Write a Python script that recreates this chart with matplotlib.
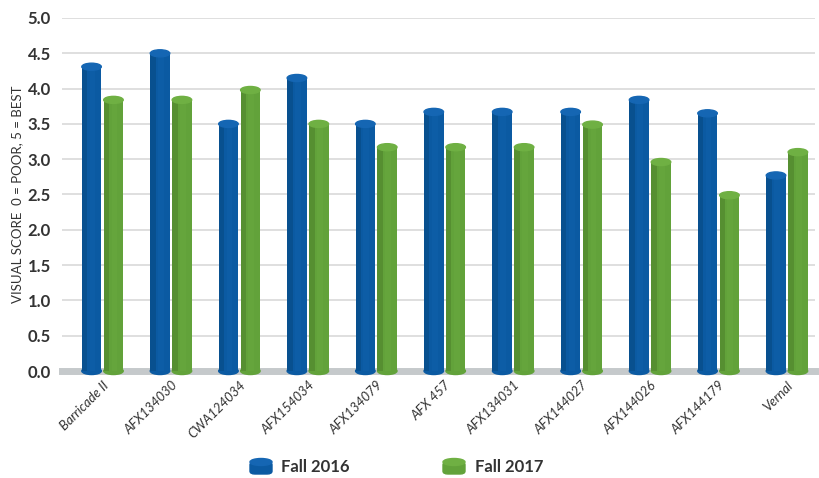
import matplotlib.pyplot as plt
import numpy as np
from matplotlib.patches import Ellipse, FancyBboxPatch

# data
varieties = ["Barricade II", "AFX134030", "CWA124034", "AFX154034", "AFX134079",
             "AFX 457", "AFX134031", "AFX144027", "AFX144026", "AFX144179", "Vernal"]
fall_2016 = [4.31, 4.50, 3.50, 4.15, 3.50, 3.67, 3.67, 3.67, 3.84, 3.65, 2.77]
fall_2017 = [3.84, 3.84, 3.98, 3.50, 3.17, 3.17, 3.17, 3.49, 2.96, 2.49, 3.10]
series_names = ["Fall 2016", "Fall 2017"]
y_ticks = np.arange(0, 5.01, 0.5)

# theme
BLUE = "#0b5aa2"
BLUE_DARK = "#08508f"
BLUE_TOP = "#1566b3"
GREEN = "#62a23a"
GREEN_DARK = "#568f31"
GREEN_TOP = "#6fb043"
TEXT = "#333333"
GRID = "#d9d9d9"
FLOOR = "#c5c9cb"

plt.rcParams['font.family'] = ['Lato', 'DejaVu Sans']

fig = plt.figure(figsize=(8.19, 4.78), dpi=100, facecolor="white")
ax = fig.add_axes([62 / 819, 107 / 478, 753 / 819, 353 / 478])

x = np.arange(len(varieties))
w = 0.285
off = 0.16
cap_h = 0.1


def cylinders(xs, vals, base, dark, top):
    ax.bar(xs, vals, width=w, color=base, zorder=3, clip_on=False)
    for xi, v in zip(xs, vals):
        # soft shading to fake roundness
        ax.bar(xi - w * 0.36, v, width=w * 0.28, color=dark, zorder=3.1, clip_on=False)
        ax.bar(xi + w * 0.05, v, width=w * 0.3, color=top, alpha=0.25, zorder=3.1, clip_on=False)
        ax.add_patch(Ellipse((xi, 0), w, cap_h, color=base, zorder=2.9, clip_on=False))
        ax.add_patch(Ellipse((xi, v), w, cap_h, color=top, zorder=3.3, clip_on=False))


cylinders(x - off, fall_2016, BLUE, BLUE_DARK, BLUE_TOP)
cylinders(x + off, fall_2017, GREEN, GREEN_DARK, GREEN_TOP)

ax.set_xlim(-0.592, 10.41)
ax.set_ylim(0, 5.0)
ax.set_yticks(y_ticks)
ax.set_yticklabels([f"{t:.1f}" for t in y_ticks], fontsize=12, fontweight="bold", color=TEXT)
ax.yaxis.grid(True, color=GRID, lw=1.2, zorder=0)
ax.set_axisbelow(True)
ax.tick_params(axis='y', length=0, pad=8)
ax.tick_params(axis='x', length=0, pad=6)
ax.axhline(0, color=FLOOR, lw=5, zorder=2, clip_on=False)
for s in ax.spines.values():
    s.set_visible(False)

ax.set_xticks(x)
ax.set_xticklabels(varieties, rotation=45, ha="right", rotation_mode="anchor",
                   fontsize=9.5, style="italic", color=TEXT)
ax.set_ylabel("VISUAL SCORE  0 = POOR, 5 = BEST", fontsize=9.5, color=TEXT, labelpad=3)

# legend with cylinder icons
for (ix, tx), name, base, top in zip([(250, 281), (443, 475)], series_names,
                                     [BLUE, GREEN], [BLUE_TOP, GREEN_TOP]):
    fig.patches.append(FancyBboxPatch((ix / 819, 4 / 478), 22 / 819, 12 / 478,
                                      boxstyle="round,pad=0,rounding_size=0.006",
                                      transform=fig.transFigure, color=base))
    fig.patches.append(Ellipse(((ix + 11) / 819, 16 / 478), 22 / 819, 7 / 478,
                               transform=fig.transFigure, color=top))
    fig.text(tx / 819, 11 / 478, name, fontsize=12, fontweight="bold", color=TEXT,
             va="center", ha="left")

fig.savefig("out.png", dpi=100, facecolor="white")
